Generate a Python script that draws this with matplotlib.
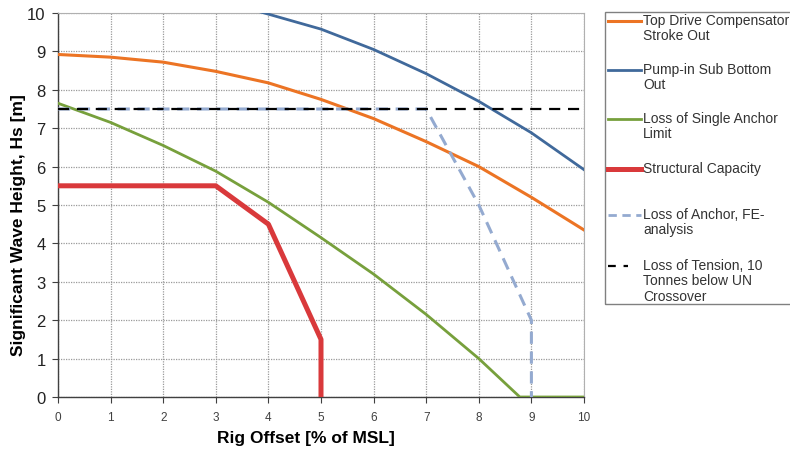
import matplotlib
matplotlib.use("Agg")
import matplotlib.pyplot as plt
from matplotlib.lines import Line2D
from matplotlib.patches import Rectangle

plt.rcParams['font.family'] = ['Liberation Sans', 'DejaVu Sans']

# Data
top_drive_x = [0, 1, 2, 3, 4, 5, 6, 7, 8, 9, 10]
top_drive_y = [8.92, 8.85, 8.72, 8.48, 8.18, 7.75, 7.25, 6.65, 6.0, 5.2, 4.35]

pump_x = [3, 4, 5, 6, 7, 8, 9, 10]
pump_y = [10.35, 9.97, 9.58, 9.05, 8.42, 7.7, 6.88, 5.92]

single_anchor_x = [0, 1, 2, 3, 4, 5, 6, 7, 8, 8.78, 10]
single_anchor_y = [7.65, 7.15, 6.55, 5.88, 5.07, 4.15, 3.2, 2.15, 1.0, 0.0, 0.0]

structural_x = [0, 3, 4, 5, 5]
structural_y = [5.5, 5.5, 4.5, 1.5, 0.0]

fe_x = [0, 7, 8, 9, 9]
fe_y = [7.5, 7.5, 5.0, 2.0, 0.0]

tension_x = [0, 10]
tension_y = [7.5, 7.5]

x_ticks = [0, 1, 2, 3, 4, 5, 6, 7, 8, 9, 10]
y_ticks = [0, 1, 2, 3, 4, 5, 6, 7, 8, 9, 10]

labels = ["Top Drive Compensator\nStroke Out",
          "Pump-in Sub Bottom\nOut",
          "Loss of Single Anchor\nLimit",
          "Structural Capacity",
          "Loss of Anchor, FE-\nanalysis",
          "Loss of Tension, 10\nTonnes below UN\nCrossover"]

c_orange = '#EC7424'
c_blue = '#40699B'
c_green = '#77A03C'
c_red = '#D9393B'
c_lblue = '#94AAD0'
c_black = '#000000'

fig = plt.figure(figsize=(7.9, 4.52), dpi=100)
ax = fig.add_axes([58/790, 1-398/452, (584-58)/790, (398-14)/452])

ax.plot(top_drive_x, top_drive_y, color=c_orange, lw=2.2, zorder=3)
ax.plot(pump_x, pump_y, color=c_blue, lw=2.0, zorder=3)
ax.plot(single_anchor_x, single_anchor_y, color=c_green, lw=2.0, zorder=3)
ax.plot(structural_x, structural_y, color=c_red, lw=3.6, zorder=4)
ax.plot(fe_x, fe_y, color=c_lblue, lw=2.2, dashes=(4, 2.5), zorder=3)
ax.plot(tension_x, tension_y, color=c_black, lw=1.6, dashes=(5, 3.5), zorder=5, clip_on=False)

ax.set_xlim(0, 10)
ax.set_ylim(0, 10)
ax.set_xticks(x_ticks)
ax.set_yticks(y_ticks)
ax.grid(True, color='#9a9a9a', linestyle=(0, (1, 1)), lw=0.9)
ax.set_axisbelow(True)
for s in ['top', 'right']:
    ax.spines[s].set_color('#b0b0b0')
for s in ['left', 'bottom']:
    ax.spines[s].set_color('#404040')
    ax.spines[s].set_linewidth(1.0)
ax.tick_params(axis='y', labelsize=12, length=4, pad=5, colors='#404040', labelcolor='#222222')
ax.tick_params(axis='x', labelsize=8.5, length=4, pad=6, colors='#404040', labelcolor='#404040')
ax.set_ylabel("Significant Wave Height, Hs [m]", fontsize=12.5, fontweight='bold', labelpad=1)
ax.set_xlabel("Rig Offset [% of MSL]", fontsize=12.5, fontweight='bold', labelpad=5)
ax.yaxis.set_label_coords(-0.06, 0.45)
ax.xaxis.label.set_x(0.471)

# Legend (manual, Excel-like)
W, H = 790, 452
def fx(px):
    return px / W
def fy(py):
    return 1 - py / H

fig.patches.append(Rectangle((fx(605), fy(305)), fx(200), (305-13)/H,
                             transform=fig.transFigure, fill=False,
                             edgecolor='#808080', lw=1.0))
entries = [
    (c_orange, 2.2, None, 22),
    (c_blue, 2.0, None, 71),
    (c_green, 2.0, None, 120),
    (c_red, 3.6, None, 170),
    (c_lblue, 2.0, (3, 2), 216),
    (c_black, 1.6, (3.5, 3.5), 267),
]
for (col, lw, dash, ypx), lab in zip(entries, labels):
    kw = dict(color=col, lw=lw, transform=fig.transFigure)
    if dash is not None:
        kw['dashes'] = dash
    if col == c_black:
        line = Line2D([fx(608), fx(628)], [fy(ypx), fy(ypx)], **kw)
    else:
        line = Line2D([fx(608), fx(641)], [fy(ypx), fy(ypx)], **kw)
    fig.lines.append(line)
    fig.text(fx(643), fy(ypx - 8), lab, fontsize=10, color='#333333',
             va='top', ha='left', linespacing=1.12,
             transform=fig.transFigure)

fig.savefig("out.png", dpi=100)
